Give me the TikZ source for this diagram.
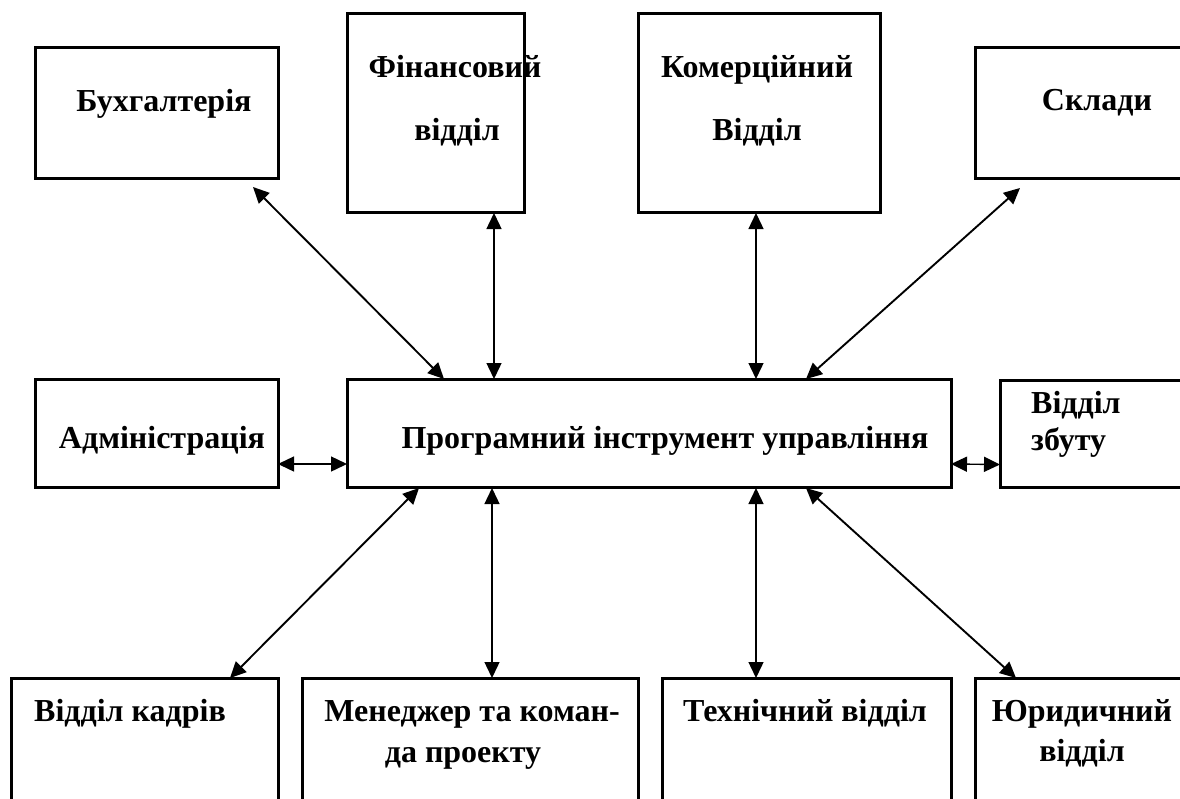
\documentclass[tikz,border=0pt]{standalone}
\usepackage{fontspec}
\setmainfont{Liberation Serif}
\usetikzlibrary{arrows.meta}
\begin{document}
\begin{tikzpicture}[x=1pt,y=-1pt,
  box/.style={draw, line width=3pt, rectangle, inner sep=0pt, outer sep=0pt, anchor=north west},
  lbl/.style={font=\bfseries\fontsize{32}{38}\selectfont, inner sep=0pt, anchor=base},
  link/.style={line width=1.4pt, {Triangle[length=16pt,width=15pt]}-{Triangle[length=16pt,width=15pt]}},
  slant/.style={link, line width=1.9pt}]
% page area
\clip (0,0) rectangle (1180,798);
\fill[white] (0,0) rectangle (1180,798);

% departments and the central tool
\node[box, minimum width=243pt, minimum height=131pt] (buh)  at (35,47)   {};
\node[box, minimum width=177pt, minimum height=199pt] (fin)  at (347,13)  {};
\node[box, minimum width=242pt, minimum height=199pt] (kom)  at (638,13)  {};
\node[box, minimum width=230pt, minimum height=131pt] (skl)  at (975,47)  {};
\node[box, minimum width=243pt, minimum height=108pt] (adm)  at (35,379)  {};
\node[box, minimum width=604pt, minimum height=108pt] (prog) at (347,379) {};
\node[box, minimum width=210pt, minimum height=107pt] (zbut) at (1000,380) {};
\node[box, minimum width=267pt, minimum height=150pt] (kadr) at (11,678)  {};
\node[box, minimum width=336pt, minimum height=150pt] (men)  at (302,678) {};
\node[box, minimum width=289pt, minimum height=150pt] (teh)  at (662,678) {};
\node[box, minimum width=230pt, minimum height=150pt] (yur)  at (975,678) {};

% labels
\node[lbl] (tbuh)  at (164,111) {Бухгалтерія};
\node[lbl] (tfin1) at (455,77)  {Фінансовий};
\node[lbl] (tfin2) at (457,140) {відділ};
\node[lbl] (tkom1) at (757,77)  {Комерційний};
\node[lbl] (tkom2) at (757,140) {Відділ};
\node[lbl] (tskl)  at (1097,110) {Склади};
\node[lbl] (tadm)  at (162,448) {Адміністрація};
\node[lbl] (tprog) at (665,448) {Програмний інструмент управління};
\node[lbl, anchor=base west] (tzb1) at (1031,413) {Відділ};
\node[lbl, anchor=base west] (tzb2) at (1031,450) {збуту};
\node[lbl] (tkadr) at (130,721) {Відділ кадрів};
\node[lbl] (tmen1) at (472,721) {Менеджер та коман-};
\node[lbl] (tmen2) at (463,762) {да проекту};
\node[lbl] (tteh)  at (805,721) {Технічний відділ};
\node[lbl] (tyur1) at (1082,721) {Юридичний};
\node[lbl] (tyur2) at (1082,761) {відділ};

% two-way links
\draw[slant] ([shift={(-25,9)}]buh.south east) -- ([shift={(97,0)}]prog.north west);
\draw[link]  ([shift={(58.5,1)}]fin.south) -- ([shift={(147,0)}]prog.north west);
\draw[link]  ([shift={(-3,1)}]kom.south) -- ([shift={(409,0)}]prog.north west);
\draw[slant] ([shift={(45,10)}]skl.south west) -- ([shift={(459,0)}]prog.north west);
\draw[link]  ([shift={(0,31)}]adm.east) -- ([shift={(0,31)}]prog.west);
\draw[link]  ([shift={(0,31)}]prog.east) -- ([shift={(0,31)}]zbut.west);
\draw[slant] ([shift={(72,1)}]prog.south west) -- ([shift={(-48,0)}]kadr.north east);
\draw[link]  ([shift={(145,1)}]prog.south west) -- ([shift={(190,0)}]men.north west);
\draw[link]  ([shift={(409,1)}]prog.south west) -- ([shift={(94,0)}]teh.north west);
\draw[slant] ([shift={(459,1)}]prog.south west) -- ([shift={(41,0)}]yur.north west);
\end{tikzpicture}
\end{document}
